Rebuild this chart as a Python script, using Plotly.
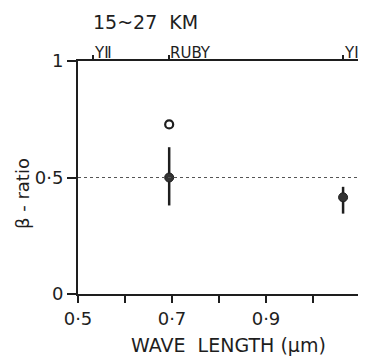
import plotly.graph_objects as go

# Data
wavelength_filled = [0.694, 1.064]
beta_filled = [0.50, 0.415]
err_plus = [0.13, 0.045]
err_minus = [0.12, 0.07]
wavelength_open = [0.694]
beta_open = [0.728]

laser_names = ["YⅡ", "RUBY", "YⅠ"]
laser_wavelengths = [0.532, 0.694, 1.064]

x_tickvals = [0.5, 0.6, 0.7, 0.8, 0.9, 1.0, 1.1]
x_ticktext = ["0·5", "", "0·7", "", "0·9", "", "1·1"]
y_tickvals = [0, 0.5, 1]
y_ticktext = ["0", "0·5", "1"]

INK = "#1e1e1e"
FONT = "DejaVu Sans, sans-serif"

fig = go.Figure()
fig.add_trace(go.Scatter(
    x=wavelength_filled, y=beta_filled, mode="markers",
    marker=dict(symbol="circle", size=9, color="#333333", line=dict(color=INK, width=1)),
    error_y=dict(type="data", symmetric=False, array=err_plus, arrayminus=err_minus,
                 color=INK, thickness=2.5, width=0),
    showlegend=False))
fig.add_trace(go.Scatter(
    x=wavelength_open, y=beta_open, mode="markers",
    marker=dict(symbol="circle-open", size=8, color=INK, line=dict(width=2.2)),
    showlegend=False))

# top-axis laser marks
fig.add_trace(go.Scatter(x=laser_wavelengths, y=[1]*3, xaxis="x2", mode="markers",
                         marker=dict(opacity=0), showlegend=False, hoverinfo="skip"))

# dotted reference line at 0.5
fig.add_shape(type="line", xref="paper", yref="y", x0=0, x1=1, y0=0.5, y1=0.5,
              line=dict(color="#555555", width=1, dash="dot"))

for name, wl in zip(laser_names, laser_wavelengths):
    fig.add_annotation(x=wl, y=1, xref="x", yref="y", text=name, showarrow=False,
                       xanchor="left", yanchor="bottom", xshift=-1, yshift=-3,
                       font=dict(family=FONT, size=15, color=INK))

fig.add_annotation(x=0.644, y=1.167, xref="x", yref="paper", text="15~27  KM", showarrow=False,
                   xanchor="center", yanchor="middle",
                   font=dict(family=FONT, size=19, color=INK))
fig.add_annotation(x=-0.199, y=0.433, xref="paper", yref="paper", text="β - ratio", showarrow=False,
                   xanchor="center", yanchor="middle", textangle=-90,
                   font=dict(family=FONT, size=18, color=INK))
fig.add_annotation(x=0.532, y=-0.219, xref="paper", yref="paper", text="WAVE  LENGTH (μm)",
                   showarrow=False, xanchor="center", yanchor="middle",
                   font=dict(family=FONT, size=19, color=INK))

fig.update_layout(
    width=358, height=349,
    margin=dict(l=70, r=6, t=53, b=63),
    paper_bgcolor="white", plot_bgcolor="white",
    font=dict(family=FONT, color=INK),
    xaxis=dict(range=[0.5, 1.1], tickvals=x_tickvals, ticktext=x_ticktext, automargin=False,
               ticks="outside", ticklen=7, tickwidth=2, tickcolor=INK,
               showline=True, linewidth=2, linecolor=INK, mirror=True,
               showgrid=False, zeroline=False,
               tickfont=dict(size=18, family=FONT, color=INK)),
    xaxis2=dict(range=[0.5, 1.1], overlaying="x", side="top", tickvals=laser_wavelengths,
                ticktext=["", "", ""], ticks="outside", ticklen=5, tickwidth=1.5, tickcolor=INK,
                showgrid=False, showline=False, zeroline=False, automargin=False),
    yaxis=dict(range=[0, 1], tickvals=y_tickvals, ticktext=y_ticktext, automargin=False,
               ticks="outside", ticklen=9, tickwidth=1.5, tickcolor=INK,
               showline=True, linewidth=2, linecolor=INK, mirror=True,
               showgrid=False, zeroline=False,
               tickfont=dict(size=18, family=FONT, color=INK)),
)

fig.write_html("out.html")
